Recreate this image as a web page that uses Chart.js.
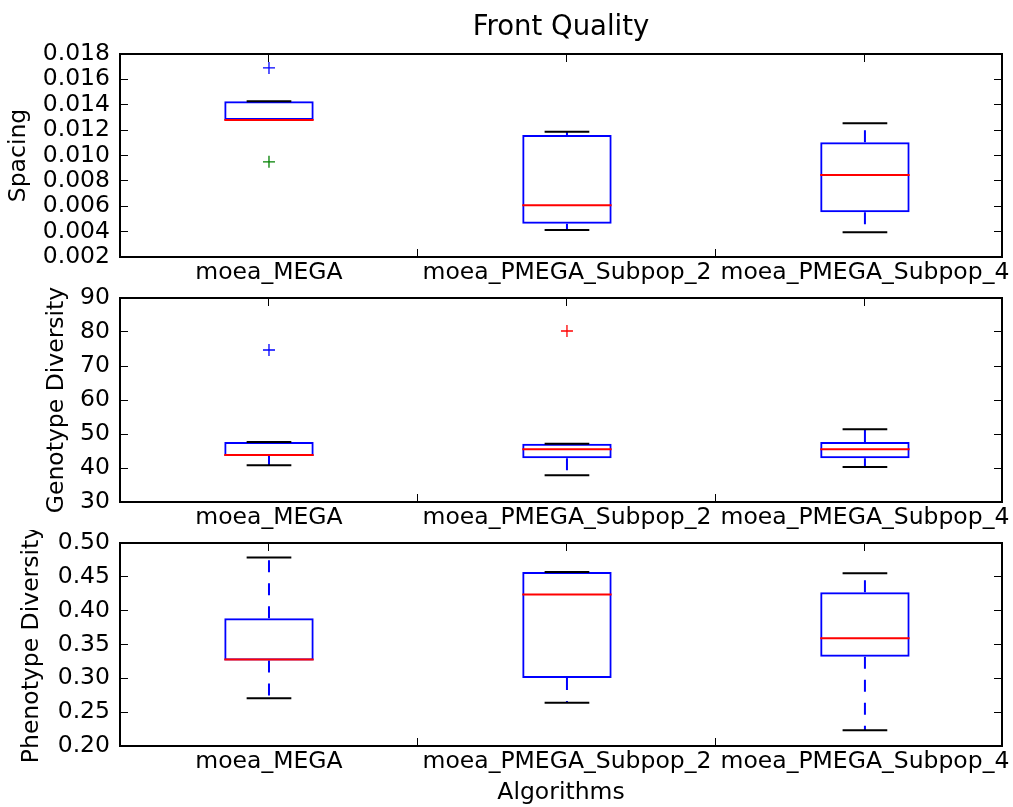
<!DOCTYPE html>
<html>
<head>
<meta charset="utf-8">
<title>Front Quality</title>
<script src="https://cdn.jsdelivr.net/npm/chart.js@4.4.1/dist/chart.umd.min.js"></script>
<style>
  html, body { margin: 0; padding: 0; background: #fff; }
  .panel { position: absolute; left: 0; width: 1013px; }
  canvas { display: block; }
</style>
</head>
<body>
<div class="panel" style="top:0px"><canvas id="spacingChart" width="1013" height="285"></canvas></div>
<div class="panel" style="top:285px"><canvas id="genotypeChart" width="1013" height="245"></canvas></div>
<div class="panel" style="top:530px"><canvas id="phenotypeChart" width="1013" height="277"></canvas></div>

<script>
// --- 1. Data ---
const algorithms = ['moea_MEGA', 'moea_PMEGA_Subpop_2', 'moea_PMEGA_Subpop_4'];

// Spacing
const spacingLow  = [0.0128, 0.00413, 0.00395];
const spacingQ1   = [0.0128, 0.00463, 0.00552];
const spacingMed  = [0.0128, 0.00607, 0.00846];
const spacingQ3   = [0.01427, 0.01162, 0.01104];
const spacingHigh = [0.01427, 0.01188, 0.01254];
const spacingFliers = [[0.0169, 0.0095], [], []];
const spacingTickLabels = ['0.002', '0.004', '0.006', '0.008', '0.010', '0.012', '0.014', '0.016', '0.018'];

// Genotype Diversity
const genotypeLow  = [40.8, 37.85, 40.3];
const genotypeQ1   = [43.5, 42.9, 42.9];
const genotypeMed  = [43.8, 45.5, 45.5];
const genotypeQ3   = [47.65, 47.1, 47.65];
const genotypeHigh = [47.65, 47.1, 51.4];
const genotypeFliers = [[74.7], [80.3], []];
const genotypeTickLabels = ['30', '40', '50', '60', '70', '80', '90'];

// Phenotype Diversity
const phenotypeLow  = [0.2704, 0.264, 0.2232];
const phenotypeQ1   = [0.3265, 0.3004, 0.3318];
const phenotypeMed  = [0.328, 0.4239, 0.3594];
const phenotypeQ3   = [0.3889, 0.4572, 0.4273];
const phenotypeHigh = [0.4784, 0.4572, 0.4553];
const phenotypeFliers = [[], [], []];
const phenotypeTickLabels = ['0.20', '0.25', '0.30', '0.35', '0.40', '0.45', '0.50'];

// --- 2. Styling ---
Chart.defaults.font.family = "'DejaVu Sans', sans-serif";
Chart.defaults.font.size = 23.5;
Chart.defaults.color = '#000';

const BOX_W = 0.3;   // box width in x units (matplotlib default)
const CAP_W = 0.15;  // cap width in x units
const X_MIN = 0.5;
const X_MAX = 3.46;  // the right side of the axes is cut a little short in the original
// flier colours follow the old matplotlib colour cycle
const flierColorsSpacing = [['#0000ff', '#008000'], [], []];
const flierColorsGenotype = [['#0000ff'], ['#ff0000'], []];

// --- 3. Helpers ---
// horizontal segments centred on each category, broken by null points
function hSegments(values, half) {
    const pts = [];
    values.forEach((v, i) => {
        const x = i + 1;
        pts.push({ x: x - half, y: v }, { x: x + half, y: v }, { x: x + 0.5, y: null });
    });
    return pts;
}

// whiskers go from the box edge outward so the dash starts at the box
function whiskerSegments(q1, q3, low, high) {
    const pts = [];
    algorithms.forEach((_, i) => {
        const x = i + 1;
        pts.push({ x: x, y: q3[i] }, { x: x, y: high[i] }, { x: x + 0.1, y: null });
        pts.push({ x: x, y: q1[i] }, { x: x, y: low[i] }, { x: x + 0.2, y: null });
    });
    return pts;
}

function makePanel(canvasId, p) {
    const tickNums = p.tickLabels.map(Number);
    const yMin = tickNums[0];
    const yMax = tickNums[tickNums.length - 1];

    const flierPts = [];
    const flierCols = [];
    p.fliers.forEach((list, i) => {
        list.forEach((v, k) => {
            flierPts.push({ x: i + 1, y: v });
            flierCols.push(p.flierColors[i][k]);
        });
    });

    const datasets = [
        { // medians (drawn on top)
            type: 'line', data: hSegments(p.med, BOX_W / 2),
            borderColor: '#ff0000', borderWidth: 2, pointRadius: 0, spanGaps: false
        },
        { // caps
            type: 'line', data: hSegments(p.low, CAP_W / 2).concat(hSegments(p.high, CAP_W / 2)),
            borderColor: '#000000', borderWidth: 2, pointRadius: 0, spanGaps: false
        },
        { // boxes
            type: 'bar',
            data: p.q1.map((v, i) => ({ x: i + 1, y: [v, p.q3[i]] })),
            backgroundColor: 'rgba(0,0,0,0)', borderColor: '#0000ff', borderWidth: 2,
            borderSkipped: false, barPercentage: BOX_W, categoryPercentage: 1
        },
        { // whiskers
            type: 'line', data: whiskerSegments(p.q1, p.q3, p.low, p.high),
            borderColor: '#0000ff', borderWidth: 2, borderDash: [12, 11], pointRadius: 0, spanGaps: false
        },
        { // fliers
            type: 'scatter', data: flierPts,
            pointStyle: 'cross', pointRadius: 6, pointBorderWidth: 1.3,
            pointBorderColor: flierCols, pointBackgroundColor: flierCols
        }
    ];

    const grid = { drawOnChartArea: false, drawTicks: true, tickLength: -8, tickColor: '#000', tickWidth: 1 };
    const border = { color: '#000', width: 2 };
    const setXTicks = axis => { axis.ticks = algorithms.map((_, i) => ({ value: i + 1 })); };
    const setYTicks = axis => { axis.ticks = tickNums.map(v => ({ value: v })); };

    new Chart(document.getElementById(canvasId), {
        type: 'scatter',
        data: { datasets },
        options: {
            responsive: false,
            animation: false,
            layout: { padding: 0 },
            plugins: { legend: { display: false }, tooltip: { enabled: false } },
            scales: {
                x: {
                    type: 'linear', position: 'bottom', min: X_MIN, max: X_MAX, offset: false,
                    afterBuildTicks: setXTicks,
                    ticks: { autoSkip: false, maxRotation: 0, minRotation: 0, padding: 10,
                             callback: (v, i) => algorithms[i] },
                    grid, border,
                    title: { display: !!p.xTitle, text: p.xTitle || '', padding: { top: 0, bottom: 0 } },
                    afterFit: s => { s.height = p.bottomH; s.paddingLeft = 0; s.paddingRight = 0; }
                },
                x2: {
                    type: 'linear', position: 'top', min: X_MIN, max: X_MAX, offset: false,
                    afterBuildTicks: setXTicks,
                    ticks: { display: false },
                    grid, border,
                    title: { display: !!p.title, text: p.title || '', font: { size: 27.5 },
                             padding: { top: 11, bottom: 0 } },
                    afterFit: s => { s.height = p.topH; s.paddingLeft = 0; s.paddingRight = 0; }
                },
                y: {
                    type: 'linear', position: 'left', min: yMin, max: yMax,
                    afterBuildTicks: setYTicks,
                    ticks: { autoSkip: false, padding: 18, callback: (v, i) => p.tickLabels[i] },
                    grid, border,
                    title: { display: true, text: p.yTitle, padding: { top: p.yTitlePad, bottom: 0 } },
                    afterFit: s => { s.width = 120; s.paddingTop = 0; s.paddingBottom = 0; }
                },
                y2: {
                    type: 'linear', position: 'right', min: yMin, max: yMax,
                    afterBuildTicks: setYTicks,
                    ticks: { display: false },
                    grid, border,
                    afterFit: s => { s.width = 11; s.paddingTop = 0; s.paddingBottom = 0; }
                }
            }
        }
    });
}

// --- 4. Build the three panels ---
makePanel('spacingChart', {
    low: spacingLow, q1: spacingQ1, med: spacingMed, q3: spacingQ3, high: spacingHigh,
    fliers: spacingFliers, flierColors: flierColorsSpacing, tickLabels: spacingTickLabels,
    yTitle: 'Spacing', yTitlePad: 5, title: 'Front Quality', topH: 54, bottomH: 28
});

makePanel('genotypeChart', {
    low: genotypeLow, q1: genotypeQ1, med: genotypeMed, q3: genotypeQ3, high: genotypeHigh,
    fliers: genotypeFliers, flierColors: flierColorsGenotype, tickLabels: genotypeTickLabels,
    yTitle: 'Genotype Diversity', yTitlePad: 43, topH: 13, bottomH: 28
});

makePanel('phenotypeChart', {
    low: phenotypeLow, q1: phenotypeQ1, med: phenotypeMed, q3: phenotypeQ3, high: phenotypeHigh,
    fliers: phenotypeFliers, flierColors: [[], [], []], tickLabels: phenotypeTickLabels,
    yTitle: 'Phenotype Diversity', yTitlePad: 18, xTitle: 'Algorithms', topH: 13, bottomH: 61
});
</script>
</body>
</html>
